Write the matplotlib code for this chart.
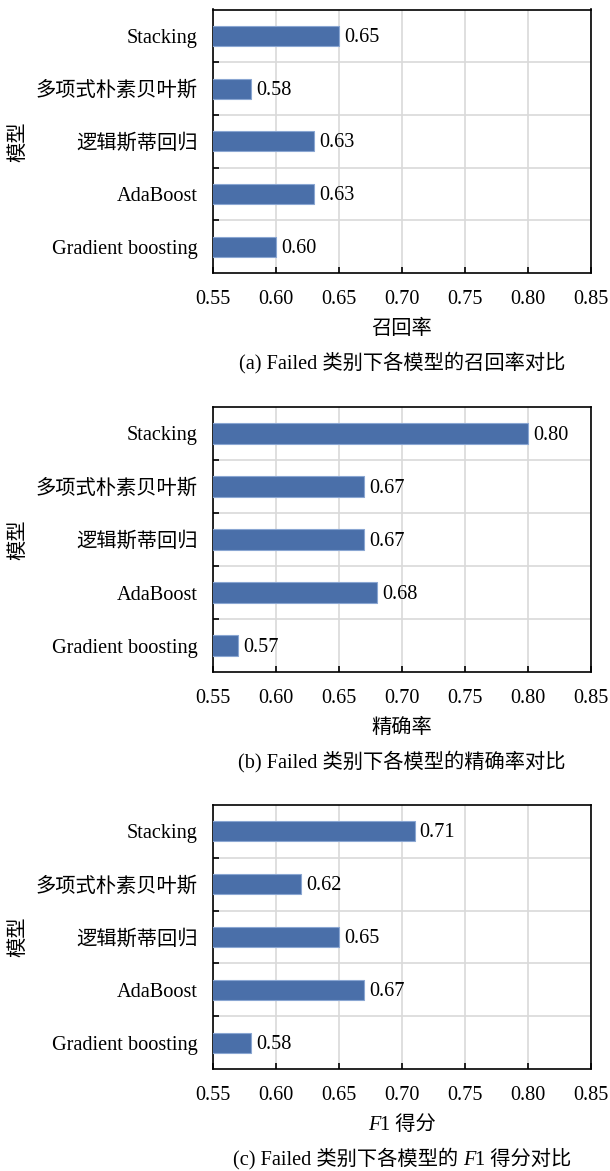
import matplotlib
matplotlib.use("Agg")
import matplotlib.pyplot as plt
from matplotlib.offsetbox import TextArea, HPacker, AnchoredOffsetbox
from matplotlib.ticker import FixedLocator

# ------------------------------
# Data
# ------------------------------
models = ["Stacking", "多项式朴素贝叶斯", "逻辑斯蒂回归", "AdaBoost", "Gradient boosting"]
recall = [0.65, 0.58, 0.63, 0.63, 0.60]
precision = [0.80, 0.67, 0.67, 0.68, 0.57]
f1_score = [0.71, 0.62, 0.65, 0.67, 0.58]
x_ticks = [0.55, 0.60, 0.65, 0.70, 0.75, 0.80, 0.85]

FONTS = ["Liberation Serif", "Noto Sans CJK SC", "DejaVu Sans"]
FS = 14.6
plt.rcParams["font.family"] = FONTS
plt.rcParams["font.size"] = FS
plt.rcParams["axes.unicode_minus"] = False

BAR_COLOR = "#4a6fa9"
EDGE_COLOR = "#8aa6d2"
GRID_COLOR = "#d9d9d9"

W, H = 610, 1171
fig = plt.figure(figsize=(W / 100, H / 100), dpi=100)

# axes boxes in pixels: (top, bottom)
boxes = [(9.5, 273), (407, 672), (805, 1069)]
left_px, right_px = 213, 591


def styled_text(parts):
    # parts: list of (text, italic)
    areas = []
    for txt, ital in parts:
        areas.append(TextArea(txt, textprops=dict(fontsize=FS, family=FONTS,
                                                   style="italic" if ital else "normal")))
    return HPacker(children=areas, align="baseline", pad=0, sep=0)


panels = [
    (recall, [("召回率", False)], [("(a) Failed 类别下各模型的召回率对比", False)]),
    (precision, [("精确率", False)], [("(b) Failed 类别下各模型的精确率对比", False)]),
    (f1_score, [("F", True), ("1 得分", False)],
     [("(c) Failed 类别下各模型的 ", False), ("F", True), ("1 得分对比", False)]),
]

for (top, bottom), (values, xlab, caption) in zip(boxes, panels):
    ax = fig.add_axes([left_px / W, 1 - bottom / H, (right_px - left_px) / W, (bottom - top) / H])
    y = list(range(len(models)))
    bars = ax.barh(y, values, height=0.38, color=BAR_COLOR, edgecolor=EDGE_COLOR,
                   linewidth=0.8, zorder=3)
    for b, v in zip(bars, values):
        ax.text(b.get_width() + 0.004, b.get_y() + b.get_height() / 2 + 0.03, f"{v:.2f}",
                va="center", ha="left", fontsize=FS, zorder=4)

    ax.set_xlim(0.55, 0.85)
    ax.set_ylim(len(models) - 0.5, -0.5)
    ax.set_xticks(x_ticks)
    ax.set_xticklabels([f"{t:.2f}" for t in x_ticks])
    ax.set_yticks(y)
    ax.set_yticklabels(models)
    ax.yaxis.set_minor_locator(FixedLocator([i + 0.5 for i in range(len(models) - 1)]))
    ax.tick_params(axis="y", which="major", length=0, pad=11)
    ax.tick_params(axis="y", which="minor", direction="in", length=4, width=1.2)
    ax.tick_params(axis="x", which="major", direction="in", length=4, width=1.2, pad=12)

    ax.grid(axis="x", which="major", color=GRID_COLOR, linewidth=1.2, zorder=0)
    ax.grid(axis="y", which="minor", color=GRID_COLOR, linewidth=1.2, zorder=0)
    for s in ax.spines.values():
        s.set_linewidth(1.2)
        s.set_color("black")

    ax.set_ylabel("模型", fontsize=FS)
    ax.yaxis.set_label_coords((28 - left_px) / (right_px - left_px), 0.5)

    # x label and caption, centered under the axes
    cx = 0.5 * (left_px + right_px) / W
    lab_box = AnchoredOffsetbox(loc="center", child=styled_text(xlab), frameon=False,
                                bbox_to_anchor=(cx, 1 - (bottom + 56) / H),
                                bbox_transform=fig.transFigure, pad=0, borderpad=0)
    fig.add_artist(lab_box)
    cap_box = AnchoredOffsetbox(loc="center", child=styled_text(caption), frameon=False,
                                bbox_to_anchor=(cx, 1 - (bottom + 90) / H),
                                bbox_transform=fig.transFigure, pad=0, borderpad=0)
    fig.add_artist(cap_box)

fig.savefig("out.png", dpi=100)
